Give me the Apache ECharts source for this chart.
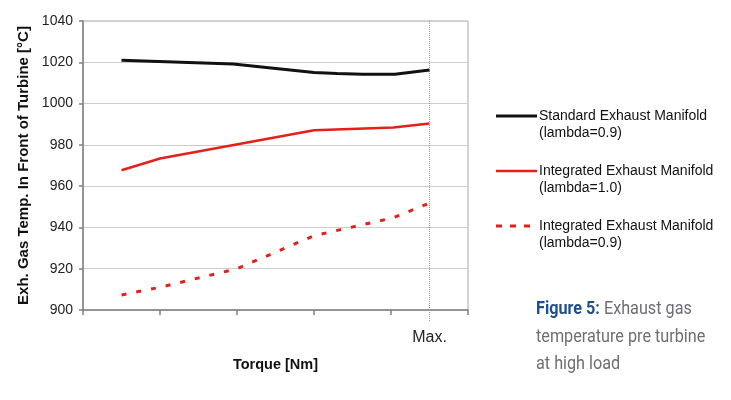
<!DOCTYPE html>
<html lang="en">

<head>
    <meta charset="UTF-8">
    <script src="https://cdn.jsdelivr.net/npm/echarts@6.0.0/dist/echarts.min.js"></script>
    <title>Exhaust gas temperature</title>
    <style>
        body { margin: 0; background: #fff; }
    </style>
</head>

<body>
    <div id="main" style="width: 731px;height:400px;"></div>
    <script>
        // data (x in torque steps, Max. = 4.5)
        var torqueStd = [0.5, 1.95, 3.0, 3.3, 3.63, 4.05, 4.5];
        var tempStd = [1021, 1019.2, 1015, 1014.6, 1014.2, 1014.2, 1016.3];
        var torqueInt10 = [0.5, 1.0, 3.0, 4.03, 4.5];
        var tempInt10 = [967.7, 973.4, 987.1, 988.4, 990.3];
        var torqueInt09 = [0.5, 1.0, 2.0, 3.0, 4.03, 4.5];
        var tempInt09 = [907.3, 911, 920, 936, 944.7, 951.8];
        var maxTorque = 4.5;
        var seriesNames = ['Standard Exhaust Manifold\n(lambda=0.9)', 'Integrated Exhaust Manifold\n(lambda=1.0)', 'Integrated Exhaust Manifold\n(lambda=0.9)'];

        function pairs(xs, ys) {
            return xs.map(function (x, i) { return [x, ys[i]]; });
        }

        var font = '"Liberation Sans", Arial, sans-serif';
        var myChart = echarts.init(document.getElementById('main'));

        // legend drawn by hand so the line sits on the first text row
        var legendRows = [
            { y: 116, color: '#111', dash: null, width: 3 },
            { y: 171, color: '#e3201b', dash: null, width: 2.5 },
            { y: 226, color: '#e3201b', dash: [6, 8], width: 3 }
        ];
        var graphics = [];
        legendRows.forEach(function (r, i) {
            graphics.push({
                type: 'line',
                shape: { x1: 496, y1: r.y, x2: 537, y2: r.y },
                style: { stroke: r.color, lineWidth: r.width, lineDash: r.dash }
            });
            graphics.push({
                type: 'text',
                left: 539,
                top: r.y - 8,
                style: { text: seriesNames[i], font: '14px ' + font, fill: '#111', lineHeight: 17 }
            });
        });
        graphics.push({
            type: 'text',
            x: 536,
            y: 296,
            scaleX: 0.9,
            style: {
                text: '{b|Figure 5:} Exhaust gas\ntemperature pre turbine\nat high load',
                font: '18px Roboto, sans-serif',
                fill: '#6b6e74',
                lineHeight: 27.5,
                rich: {
                    b: { font: 'bold 18px Roboto, sans-serif', fill: '#1f4e8c', lineHeight: 27.5 }
                }
            }
        });

        var option = {
            animation: false,
            grid: { left: 83, right: 263, top: 21, bottom: 90, show: true, borderColor: '#a8a8a8', borderWidth: 1 },
            xAxis: [{
                type: 'value',
                min: 0,
                max: 5,
                interval: 1,
                name: 'Torque [Nm]',
                nameLocation: 'middle',
                nameGap: 47,
                nameTextStyle: { fontFamily: font, fontSize: 14.5, fontWeight: 'bold', color: '#111' },
                axisLine: { show: true, lineStyle: { color: '#808080', width: 1.5 } },
                axisTick: { show: true, length: 5, lineStyle: { color: '#808080', width: 1.5 } },
                axisLabel: {
                    customValues: [maxTorque],
                    formatter: function () { return 'Max.'; },
                    margin: 20,
                    fontFamily: font,
                    fontSize: 16,
                    color: '#222'
                },
                splitLine: { show: false }
            }, {
                // dotted stub of the Max. line below the axis
                type: 'value',
                min: 0,
                max: 5,
                position: 'bottom',
                axisLine: { show: false },
                axisTick: { show: true, customValues: [maxTorque], length: 12, lineStyle: { color: '#999', type: 'dotted', width: 1 } },
                axisLabel: { show: false },
                splitLine: { show: false }
            }],
            yAxis: {
                type: 'value',
                min: 900,
                max: 1040,
                interval: 20,
                name: 'Exh. Gas Temp. In Front of Turbine [°C]',
                nameLocation: 'middle',
                nameGap: 47,
                nameTextStyle: { fontFamily: font, fontSize: 15, fontWeight: 'bold', color: '#111' },
                axisLine: { show: true, lineStyle: { color: '#808080', width: 1.5 } },
                axisTick: { show: true, length: 4, lineStyle: { color: '#808080', width: 1.5 } },
                axisLabel: {
                    margin: 10,
                    fontFamily: font,
                    fontSize: 14,
                    color: '#222',
                    formatter: function (v) { return String(v); }
                },
                splitLine: { lineStyle: { color: '#cccccc', width: 1 } }
            },
            series: [{
                name: seriesNames[0],
                type: 'line',
                data: pairs(torqueStd, tempStd),
                symbol: 'none',
                lineStyle: { color: '#111', width: 3 },
                z: 5,
                markLine: {
                    silent: true,
                    symbol: 'none',
                    label: { show: false },
                    lineStyle: { color: '#999', type: 'dotted', width: 1 },
                    data: [{ xAxis: maxTorque }]
                }
            }, {
                name: seriesNames[1],
                type: 'line',
                data: pairs(torqueInt10, tempInt10),
                symbol: 'none',
                lineStyle: { color: '#e3201b', width: 2.5 }
            }, {
                name: seriesNames[2],
                type: 'line',
                data: pairs(torqueInt09, tempInt09),
                symbol: 'none',
                lineStyle: { color: '#e3201b', width: 3, type: [5, 10] }
            }],
            graphic: graphics
        };
        myChart.setOption(option);
    </script>
</body>

</html>
